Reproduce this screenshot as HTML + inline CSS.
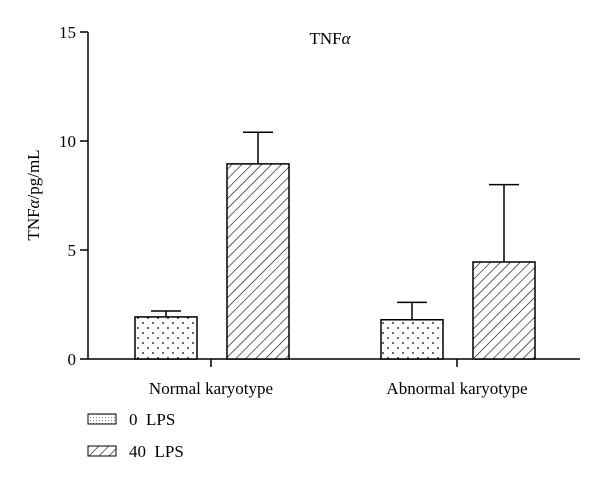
<!DOCTYPE html>
<html><head><meta charset="utf-8"><style>
body{margin:0;background:#fff}
svg{font-family:"Liberation Serif",serif}
</style></head><body>
<svg width="600" height="486" viewBox="0 0 600 486">
<defs>
<pattern id="dots" width="10" height="10" patternUnits="userSpaceOnUse"><circle cx="3" cy="3" r="0.9" fill="#000"/><circle cx="8" cy="8" r="0.9" fill="#000"/></pattern>
<pattern id="hatch" width="7" height="7" patternUnits="userSpaceOnUse" patternTransform="rotate(45)"><line x1="0" y1="0" x2="0" y2="7" stroke="#000" stroke-width="1.2"/></pattern>
<pattern id="ldots" width="3" height="3" patternUnits="userSpaceOnUse"><rect width="1" height="1" fill="#888"/></pattern>
</defs>
<text x="330" y="44" font-size="17" text-anchor="middle">TNF<tspan font-style="italic">α</tspan></text>
<text transform="translate(39,195) rotate(-90)" font-size="17" text-anchor="middle">TNF<tspan font-style="italic">α</tspan>/pg/mL</text>
<g id="axes" stroke="#000" stroke-width="1.5" fill="none"></g>
<g id="bars"></g>
<g>
<rect x="88" y="414" width="28" height="10" fill="url(#ldots)" stroke="#000"/>
<text x="129" y="425" font-size="17" xml:space="preserve">0  LPS</text>
<rect x="88" y="446" width="28" height="10" fill="url(#hatch)" stroke="#000"/>
<text x="129" y="457" font-size="17" xml:space="preserve">40  LPS</text>
</g>
</svg>
<script>
const categories=["Normal karyotype","Abnormal karyotype"];
const lps0=[1.93,1.8];
const lps0Err=[0.27,0.8];
const lps40=[8.95,4.45];
const lps40Err=[1.45,3.55];
const yTicks=[0,5,10,15];
const NS="http://www.w3.org/2000/svg";
const svg=document.querySelector("svg");
const axes=document.getElementById("axes"),bars=document.getElementById("bars");
const y0=359,y15=32,xL=88,xR=580;
const y=v=>y0-(y0-y15)*v/15;
const groupX=i=>211+i*246;
function mk(tag,attrs,parent){const e=document.createElementNS(NS,tag);for(const k in attrs)e.setAttribute(k,attrs[k]);parent.appendChild(e);return e;}
let a=mk("line",{x1:xL,y1:y(15),x2:xL,y2:y0},axes);


a=mk("line",{x1:xL,y1:y0,x2:xR,y2:y0},axes);


yTicks.forEach(t=>{
 const l=mk("line",{x1:xL-8,y1:y(t),x2:xL,y2:y(t)},axes);
 
 
 const tx=mk("text",{x:xL-12,y:y(t)+6,"font-size":17,"text-anchor":"end"},svg);
 tx.textContent=t;
 
 
});
function bar(cx,v,err,fill,name){
 const g=mk("g",{},bars);
 
 
 mk("line",{x1:cx,y1:y(v),x2:cx,y2:y(v+err),stroke:"#000","stroke-width":1.5},g);
 mk("line",{x1:cx-15,y1:y(v+err),x2:cx+15,y2:y(v+err),stroke:"#000","stroke-width":1.5},g);
 mk("rect",{x:cx-31,y:y(v),width:62,height:y0-y(v),fill:"#fff",stroke:"none"},g);
 mk("rect",{x:cx-31,y:y(v),width:62,height:y0-y(v),fill:fill,stroke:"#000","stroke-width":1.5},g);
}
categories.forEach((c,i)=>{
 const gx=groupX(i);
 const t=mk("line",{x1:gx,y1:y0,x2:gx,y2:y0+8},axes);
 
 
 const tx=mk("text",{x:gx,y:394,"font-size":17,"text-anchor":"middle"},svg);
 tx.textContent=c;
 
 
 bar(gx-45,lps0[i],lps0Err[i],"url(#dots)","bar-0-lps-"+i);
 bar(gx+47,lps40[i],lps40Err[i],"url(#hatch)","bar-40-lps-"+i);
});
</script>
</body></html>
